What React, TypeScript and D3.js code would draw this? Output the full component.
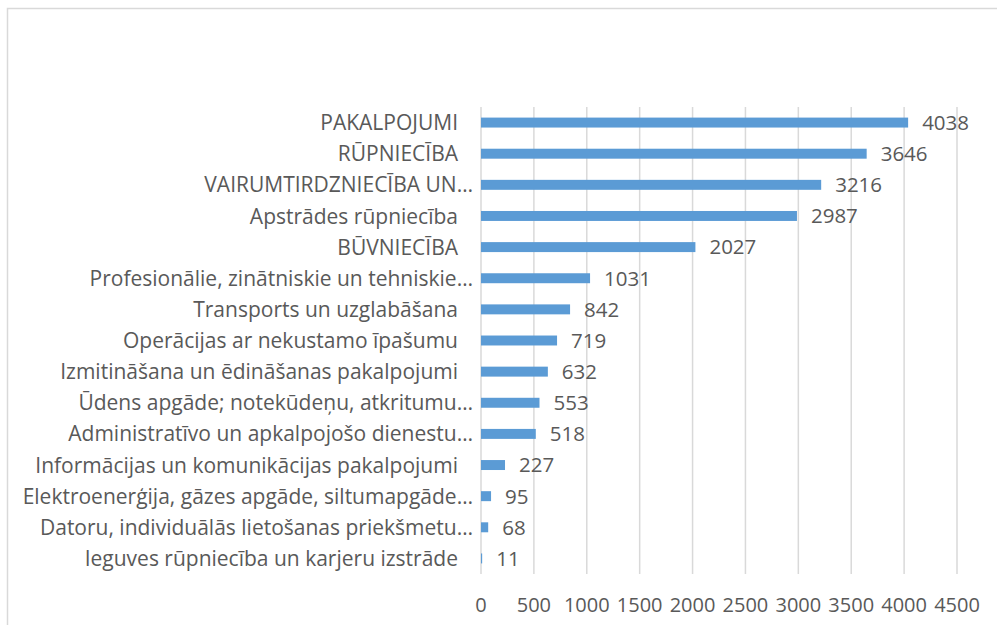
import React from "react";
import * as d3 from "d3";

const categories: string[] = [
  "PAKALPOJUMI",
  "RŪPNIECĪBA",
  "VAIRUMTIRDZNIECĪBA UN…",
  "Apstrādes rūpniecība",
  "BŪVNIECĪBA",
  "Profesionālie, zinātniskie un tehniskie…",
  "Transports un uzglabāšana",
  "Operācijas ar nekustamo īpašumu",
  "Izmitināšana un ēdināšanas pakalpojumi",
  "Ūdens apgāde; notekūdeņu, atkritumu…",
  "Administratīvo un apkalpojošo dienestu…",
  "Informācijas un komunikācijas pakalpojumi",
  "Elektroenerģija, gāzes apgāde, siltumapgāde…",
  "Datoru, individuālās lietošanas priekšmetu…",
  "Ieguves rūpniecība un karjeru izstrāde",
];

const values: number[] = [4038, 3646, 3216, 2987, 2027, 1031, 842, 719, 632, 553, 518, 227, 95, 68, 11];

const xTicks: number[] = [0, 500, 1000, 1500, 2000, 2500, 3000, 3500, 4000, 4500];

const W = 997;
const H = 625;
const plotLeft = 481;
const plotRight = 957;
const plotTop = 107;
const plotBottom = 574;

const FONT = "'Open Sans', sans-serif";
const TEXT = "#595959";
const GRID = "#d9d9d9";
const BAR = "#5b9bd5";

export default function App() {
  const x = d3.scaleLinear().domain([0, 4500]).range([plotLeft, plotRight]);
  const y = d3
    .scaleBand<string>()
    .domain(categories)
    .range([plotTop, plotBottom])
    .paddingInner(0.68)
    .paddingOuter(0.34);

  return (
    <svg
      width={W}
      height={H}
      style={{ position: "absolute", left: 0, top: 0 }}
      fontFamily={FONT}
    >
      <rect x={0} y={0} width={W} height={H} fill="#fff" />
      <rect x={7.5} y={8.5} width={W + 20} height={H + 20} fill="none" stroke={GRID} strokeWidth={1.5} />
      {xTicks.map((t) => (
        <line key={t} x1={x(t)} x2={x(t)} y1={plotTop} y2={plotBottom} stroke={GRID} strokeWidth={1.5} />
      ))}
      {categories.map((c, i) => (
        <g key={c}>
          <rect x={x(0)} y={y(c)!} width={x(values[i]) - x(0)} height={y.bandwidth()} fill={BAR} />
          <text
            x={c.endsWith("…") ? plotLeft - 8 : plotLeft - 23}
            y={y(c)! + y.bandwidth() / 2}
            dy="0.36em"
            textAnchor="end"
            fontSize={21}
            fill={TEXT}
          >
            {c}
          </text>
          <text
            x={x(values[i]) + 14}
            y={y(c)! + y.bandwidth() / 2}
            dy="0.36em"
            fontSize={20.5}
            fill={TEXT}
          >
            {values[i]}
          </text>
        </g>
      ))}
      {xTicks.map((t) => (
        <text key={t} x={x(t)} y={605} dy="0.36em" textAnchor="middle" fontSize={20} fill={TEXT}>
          {t}
        </text>
      ))}
    </svg>
  );
}
